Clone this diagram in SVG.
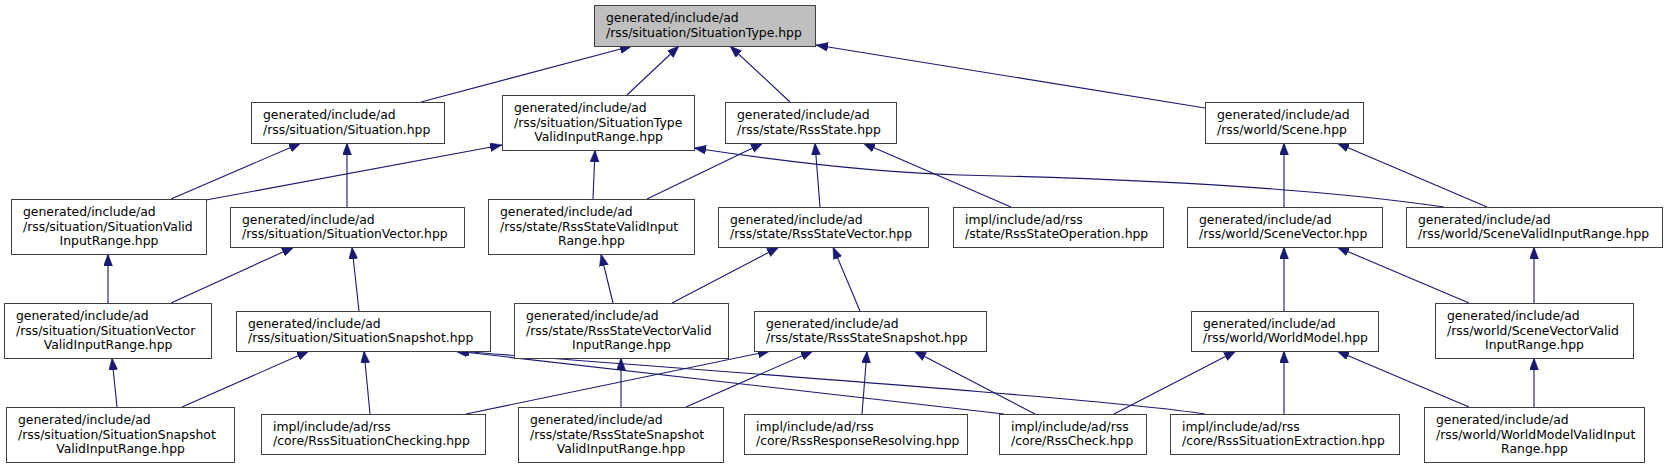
<svg xmlns="http://www.w3.org/2000/svg" width="1667" height="468" viewBox="0 0 1667 468">
<style>
.n rect{fill:#ffffff;stroke:#404040;stroke-width:1}
.n.root rect{fill:#bfbfbf}
.n text{font-family:"DejaVu Sans",Verdana,sans-serif;font-size:12.4px;fill:#000}
.n text.c{text-anchor:middle}
.e path{fill:none;stroke:#191970;stroke-width:1.1;marker-end:url(#ah)}
</style>
<defs>
<marker id="ah" markerUnits="userSpaceOnUse" markerWidth="13" markerHeight="10" refX="12" refY="4.5" orient="auto">
<path d="M0,0 L12,4.5 L0,9 Z" fill="#191970" stroke="#191970" stroke-width="0.5"/>
</marker>
</defs>
<rect width="1667" height="468" fill="#ffffff"/>
<g id="edges" class="e">
<path d="M421,102 L632,46"/>
<path d="M627,95 L679,46"/>
<path d="M790,102 L730,46"/>
<path d="M1205,108 L816,45"/>
<path d="M171,199 L301,143"/>
<path d="M347,207 L347,143"/>
<path d="M206,200 L502,145"/>
<path d="M593,199 L595,150"/>
<path d="M647,199 L763,143"/>
<path d="M820,207 L815,143"/>
<path d="M1011,207 L863,143"/>
<path d="M1444,207 C1300,186 1100,178 960,175 C860,172 760,158 694,148"/>
<path d="M1284,207 L1284,143"/>
<path d="M1487,207 L1337,143"/>
<path d="M108,303 L108,254"/>
<path d="M171,303 L294,247"/>
<path d="M359,311 L352,247"/>
<path d="M613,303 L601,254"/>
<path d="M672,303 L779,247"/>
<path d="M860,311 L833,247"/>
<path d="M1284,311 L1284,247"/>
<path d="M1469,303 L1337,247"/>
<path d="M1534,303 L1534,247"/>
<path d="M117,407 L112,358"/>
<path d="M182,407 L309,351"/>
<path d="M370,414 L364,351"/>
<path d="M466,414 L770,351"/>
<path d="M1004,414 L455,351"/>
<path d="M1205,414 C1120,400 700,370 457,351"/>
<path d="M621,407 L621,358"/>
<path d="M686,407 L813,351"/>
<path d="M862,414 L867,351"/>
<path d="M1035,414 L914,351"/>
<path d="M1114,414 L1236,351"/>
<path d="M1284,414 L1284,351"/>
<path d="M1469,407 L1337,351"/>
<path d="M1534,407 L1534,358"/>
</g>
<g id="SituationType" class="n root"><rect x="594.5" y="5.5" width="221" height="41"/><text x="606" y="22">generated/include/ad</text><text x="606" y="36.5">/rss/situation/SituationType.hpp</text></g>
<g id="Situation" class="n"><rect x="251.5" y="102.5" width="193" height="41"/><text x="263" y="119">generated/include/ad</text><text x="263" y="133.5">/rss/situation/Situation.hpp</text></g>
<g id="SituationTypeValidInputRange" class="n"><rect x="502.5" y="95.5" width="192" height="55"/><text x="514" y="112">generated/include/ad</text><text x="514" y="126.5">/rss/situation/SituationType</text><text class="c" x="598.5" y="141">ValidInputRange.hpp</text></g>
<g id="RssState" class="n"><rect x="725.5" y="102.5" width="171" height="41"/><text x="737" y="119">generated/include/ad</text><text x="737" y="133.5">/rss/state/RssState.hpp</text></g>
<g id="Scene" class="n"><rect x="1205.5" y="102.5" width="158" height="41"/><text x="1217" y="119">generated/include/ad</text><text x="1217" y="133.5">/rss/world/Scene.hpp</text></g>
<g id="SituationValidInputRange" class="n"><rect x="11.5" y="199.5" width="195" height="55"/><text x="23" y="216">generated/include/ad</text><text x="23" y="230.5">/rss/situation/SituationValid</text><text class="c" x="109" y="245">InputRange.hpp</text></g>
<g id="SituationVector" class="n"><rect x="230.5" y="207.5" width="234" height="40"/><text x="242" y="223.5">generated/include/ad</text><text x="242" y="238">/rss/situation/SituationVector.hpp</text></g>
<g id="RssStateValidInputRange" class="n"><rect x="488.5" y="199.5" width="206" height="55"/><text x="500" y="216">generated/include/ad</text><text x="500" y="230.5">/rss/state/RssStateValidInput</text><text class="c" x="591.5" y="245">Range.hpp</text></g>
<g id="RssStateVector" class="n"><rect x="718.5" y="207.5" width="210" height="40"/><text x="730" y="223.5">generated/include/ad</text><text x="730" y="238">/rss/state/RssStateVector.hpp</text></g>
<g id="RssStateOperation" class="n"><rect x="953.5" y="207.5" width="210" height="40"/><text x="965" y="223.5">impl/include/ad/rss</text><text x="965" y="238">/state/RssStateOperation.hpp</text></g>
<g id="SceneVector" class="n"><rect x="1187.5" y="207.5" width="195" height="40"/><text x="1199" y="223.5">generated/include/ad</text><text x="1199" y="238">/rss/world/SceneVector.hpp</text></g>
<g id="SceneValidInputRange" class="n"><rect x="1406.5" y="207.5" width="256" height="40"/><text x="1418" y="223.5">generated/include/ad</text><text x="1418" y="238">/rss/world/SceneValidInputRange.hpp</text></g>
<g id="SituationVectorValidInputRange" class="n"><rect x="4.5" y="303.5" width="207" height="55"/><text x="16" y="320">generated/include/ad</text><text x="16" y="334.5">/rss/situation/SituationVector</text><text class="c" x="108" y="349">ValidInputRange.hpp</text></g>
<g id="SituationSnapshot" class="n"><rect x="236.5" y="311.5" width="254" height="40"/><text x="248" y="327.5">generated/include/ad</text><text x="248" y="342">/rss/situation/SituationSnapshot.hpp</text></g>
<g id="RssStateVectorValidInputRange" class="n"><rect x="514.5" y="303.5" width="214" height="55"/><text x="526" y="320">generated/include/ad</text><text x="526" y="334.5">/rss/state/RssStateVectorValid</text><text class="c" x="621.5" y="349">InputRange.hpp</text></g>
<g id="RssStateSnapshot" class="n"><rect x="754.5" y="311.5" width="232" height="40"/><text x="766" y="327.5">generated/include/ad</text><text x="766" y="342">/rss/state/RssStateSnapshot.hpp</text></g>
<g id="WorldModel" class="n"><rect x="1191.5" y="311.5" width="187" height="40"/><text x="1203" y="327.5">generated/include/ad</text><text x="1203" y="342">/rss/world/WorldModel.hpp</text></g>
<g id="SceneVectorValidInputRange" class="n"><rect x="1435.5" y="303.5" width="198" height="55"/><text x="1447" y="320">generated/include/ad</text><text x="1447" y="334.5">/rss/world/SceneVectorValid</text><text class="c" x="1534.5" y="349">InputRange.hpp</text></g>
<g id="SituationSnapshotValidInputRange" class="n"><rect x="6.5" y="407.5" width="228" height="55"/><text x="18" y="424">generated/include/ad</text><text x="18" y="438.5">/rss/situation/SituationSnapshot</text><text class="c" x="120.5" y="453">ValidInputRange.hpp</text></g>
<g id="RssSituationChecking" class="n"><rect x="261.5" y="414.5" width="224" height="40"/><text x="273" y="430.5">impl/include/ad/rss</text><text x="273" y="445">/core/RssSituationChecking.hpp</text></g>
<g id="RssStateSnapshotValidInputRange" class="n"><rect x="518.5" y="407.5" width="205" height="55"/><text x="530" y="424">generated/include/ad</text><text x="530" y="438.5">/rss/state/RssStateSnapshot</text><text class="c" x="621" y="453">ValidInputRange.hpp</text></g>
<g id="RssResponseResolving" class="n"><rect x="744.5" y="414.5" width="223" height="40"/><text x="756" y="430.5">impl/include/ad/rss</text><text x="756" y="445">/core/RssResponseResolving.hpp</text></g>
<g id="RssCheck" class="n"><rect x="999.5" y="414.5" width="147" height="40"/><text x="1011" y="430.5">impl/include/ad/rss</text><text x="1011" y="445">/core/RssCheck.hpp</text></g>
<g id="RssSituationExtraction" class="n"><rect x="1170.5" y="414.5" width="229" height="40"/><text x="1182" y="430.5">impl/include/ad/rss</text><text x="1182" y="445">/core/RssSituationExtraction.hpp</text></g>
<g id="WorldModelValidInputRange" class="n"><rect x="1424.5" y="407.5" width="220" height="55"/><text x="1436" y="424">generated/include/ad</text><text x="1436" y="438.5">/rss/world/WorldModelValidInput</text><text class="c" x="1534.5" y="453">Range.hpp</text></g>
</svg>
